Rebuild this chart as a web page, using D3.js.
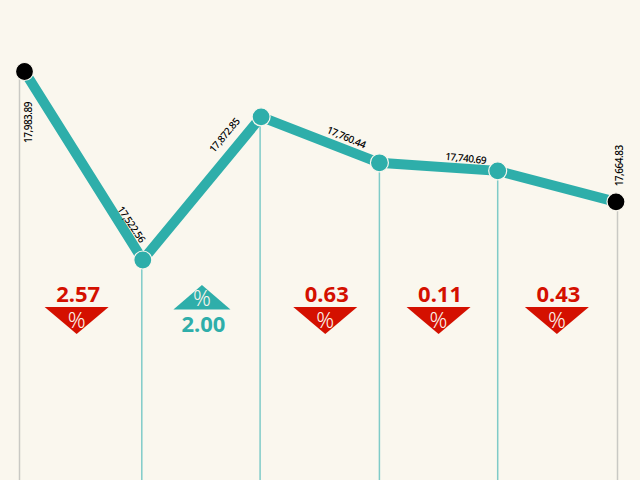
<!DOCTYPE html>
<html><head><meta charset="utf-8">
<script src="https://cdn.jsdelivr.net/npm/d3@7/dist/d3.min.js"></script>
<style>html,body{margin:0;padding:0;background:#faf7ee}svg{display:block}</style>
</head><body><svg id="c" width="640" height="480"></svg>
<script>
const closes = [17983.89, 17522.56, 17872.85, 17760.44, 17740.69, 17664.83];
const changes = [2.57, 2.00, 0.63, 0.11, 0.43];
const directions = ["down", "up", "down", "down", "down"];

const W = 640, H = 480;
const TEAL = "#2eaeaa", RED = "#d41000", BG = "#faf7ee", INK = "#000";
const FONT = "'Noto Sans','Open Sans',sans-serif";

const svg = d3.select("#c");
svg.append("rect").attr("width", W).attr("height", H).attr("fill", BG);

const x = d3.scalePoint().domain(d3.range(closes.length)).range([24.5, 616]);
const y = d3.scaleLinear().domain([17522.56, 17983.89]).range([260, 71.5]);
const last = closes.length - 1;
const isEnd = i => i === 0 || i === last;

// vertical drop lines (end lines sit slightly off their dots)
const dropShift = [-5, -1, -1, 0, 0, 1.5];
svg.append("g").selectAll("line").data(closes).join("line")
  .attr("x1", (d, i) => x(i) + dropShift[i]).attr("x2", (d, i) => x(i) + dropShift[i])
  .attr("y1", d => y(d)).attr("y2", H)
  .attr("stroke", (d, i) => isEnd(i) ? "#c9c9c4" : "#7fcbc8")
  .attr("stroke-width", 1.5);

// main line
svg.append("path").datum(closes)
  .attr("fill", "none").attr("stroke", TEAL).attr("stroke-width", 10)
  .attr("d", d3.line().x((d, i) => x(i)).y(d => y(d)));

// nodes
svg.append("g").selectAll("circle").data(closes).join("circle")
  .attr("cx", (d, i) => x(i)).attr("cy", d => y(d)).attr("r", 9)
  .attr("fill", (d, i) => isEnd(i) ? "#000" : TEAL)
  .attr("stroke", BG).attr("stroke-width", 1.2);

// value labels: offset from node and rotation
const labelPlace = [[3, 51, -90], [-11, -36, 56], [-37, 18, -50], [-33, -26, 23], [-32, -13, 6], [3, -36, -90]];
svg.append("g").selectAll("text").data(closes).join("text")
  .attr("transform", (d, i) => {
    const p = labelPlace[i];
    return `translate(${x(i) + p[0]},${y(d) + p[1]}) rotate(${p[2]})`;
  })
  .attr("text-anchor", "middle").attr("dominant-baseline", "central")
  .attr("font-family", FONT).attr("font-size", 10).attr("font-weight", 500).attr("letter-spacing", -0.5)
  .attr("fill", INK)
  .text(d => d3.format(",.2f")(d));

// change badges between neighbouring nodes
const badgeShift = [-7, 0, 5, 0, 0];
const badge = svg.append("g").selectAll("g").data(changes).join("g")
  .attr("transform", (d, i) => `translate(${(x(i) + x(i + 1)) / 2 + badgeShift[i]},0)`);

badge.append("path")
  .attr("d", (d, i) => directions[i] === "down" ? "M-32,307H32L0,334Z" : "M-28.5,309.5H28.5L0,285Z")
  .attr("fill", (d, i) => directions[i] === "down" ? RED : TEAL);

badge.append("text")
  .attr("text-anchor", "middle").attr("x", 1.5)
  .attr("y", (d, i) => directions[i] === "down" ? 302 : 332)
  .attr("font-family", FONT).attr("font-weight", 700).attr("font-size", 22)
  .attr("fill", (d, i) => directions[i] === "down" ? RED : TEAL)
  .text(d => d.toFixed(2));

badge.append("text")
  .attr("text-anchor", "middle")
  .attr("y", (d, i) => directions[i] === "down" ? 328 : 306)
  .attr("font-family", FONT).attr("font-weight", 300).attr("font-size", 22)
  .attr("fill", "#fbf3ea")
  .text("%");
</script></body></html>
